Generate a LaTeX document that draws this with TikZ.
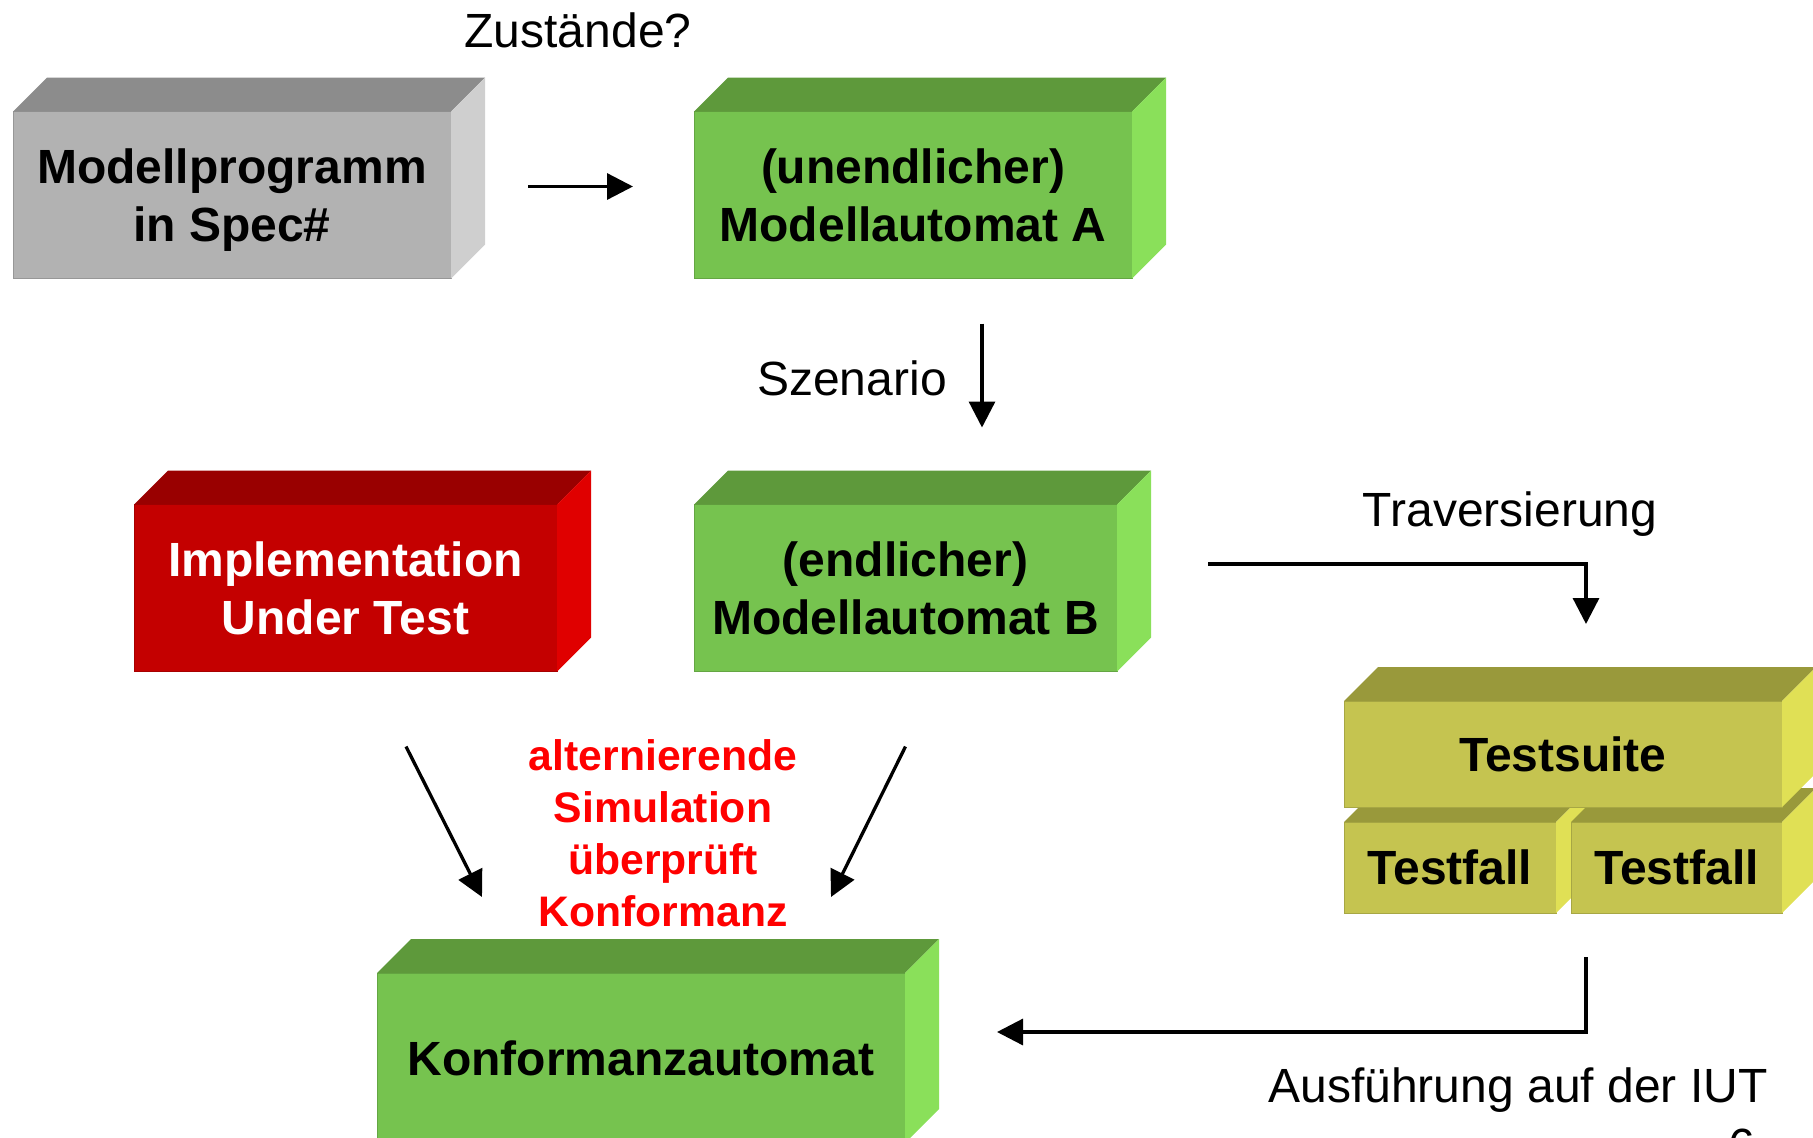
\documentclass[tikz,border=0pt]{standalone}
\usepackage{fontspec}
\setmainfont{Liberation Sans}
\usetikzlibrary{arrows.meta,calc}

% face colours of the 3-D blocks: front, top, side
\definecolor{grayF}{HTML}{B2B2B2}
\definecolor{grayT}{HTML}{8C8C8C}
\definecolor{grayS}{HTML}{CFCFCF}
\definecolor{greenF}{HTML}{76C34F}
\definecolor{greenT}{HTML}{5E993B}
\definecolor{greenS}{HTML}{8AE05A}
\definecolor{redF}{HTML}{C40000}
\definecolor{redT}{HTML}{990000}
\definecolor{redS}{HTML}{E00000}
\definecolor{oliveF}{HTML}{C5C450}
\definecolor{oliveT}{HTML}{99993B}
\definecolor{oliveS}{HTML}{E0E055}
\definecolor{alert}{HTML}{FF0000}

% top and side faces behind a front-face node: #1 node, #2 top colour, #3 side colour
\newcommand\blockfaces[3]{%
  \fill[#2] (#1.north west) -- ++(34,-34) -- ($(#1.north east)+(34,-34)$) -- (#1.north east) -- cycle;
  \fill[#3] (#1.north east) -- ++(34,-34) -- ($(#1.south east)+(34,-34)$) -- (#1.south east) -- cycle;}

\tikzset{
  front/.style={draw=#1!85!black, fill=#1, line width=1pt, inner sep=0pt, outer sep=0pt,
    align=center, font=\fontsize{48}{58}\selectfont\bfseries},
  flow/.style={line width=3.3pt, -{Triangle[length=26pt,width=26pt]}},
  caption/.style={font=\fontsize{48}{56}\selectfont, inner sep=0pt},
}

\begin{document}
\begin{tikzpicture}[x=1pt,y=-1pt]
\useasboundingbox (0,0) rectangle (1813,1138);

% --- blocks -------------------------------------------------------------
\node[front=grayF, minimum width=438, minimum height=167] (mp) at (232,195)
  {\rule{0pt}{45pt}Modellprogramm\\in Spec\#};
\blockfaces{mp}{grayT}{grayS}

\node[front=greenF, minimum width=438, minimum height=167] (ma) at (913,195)
  {(unendlicher)\\Modellautomat A};
\blockfaces{ma}{greenT}{greenS}

\node[front=redF, text=white, minimum width=423, minimum height=167] (iut) at (345.5,588)
  {Implementation\\Under Test};
\blockfaces{iut}{redT}{redS}

\node[front=greenF, minimum width=423, minimum height=167] (mb) at (905.5,588)
  {(endlicher)\\Modellautomat B};
\blockfaces{mb}{greenT}{greenS}

\node[front=greenF, minimum width=528, minimum height=170] (ka) at (641,1058)
  {Konformanzautomat};
\blockfaces{ka}{greenT}{greenS}

% test suite stack: test cases first, suite on top
\node[front=oliveF, minimum width=212, minimum height=91] (tf1) at (1450,867.5) {Testfall};
\blockfaces{tf1}{oliveT}{oliveS}
\node[front=oliveF, minimum width=211, minimum height=91] (tf2) at (1676.5,867.5) {Testfall};
\blockfaces{tf2}{oliveT}{oliveS}
\node[front=oliveF, minimum width=438, minimum height=106] (ts) at (1563,754) {Testsuite};
\blockfaces{ts}{oliveT}{oliveS}

% --- labels -------------------------------------------------------------
\node[caption] (lz) at (578,30) {Zustände?};
\node[caption] (ls) at (852,378) {Szenario};
\node[caption] (lt) at (1510,514) {Traversierung};
\node[caption] (la) at (1518,1090) {Ausführung auf der IUT};
\node[caption, anchor=base] (pg) at (1742,1162) {6};
\node[text=alert, align=center, inner sep=0pt,
      font=\fontsize{42.7}{52}\selectfont\bfseries] (sim) at (663,833)
  {alternierende\\Simulation\\überprüft\\Konformanz};

% --- connectors ---------------------------------------------------------
\draw[flow] ($(mp.east)+(77,-8.5)$) -- ($(ma.west)+(-61,-8.5)$);
\draw[flow] ($(ma.south)+(69,45)$) -- ($(mb.north)+(76.5,-77)$);
\draw[flow] ($(iut.south)+(60.5,75)$) -- ($(ka.north)+(-159,-76)$);
\draw[flow] ($(mb.south)+(0,75)$) -- ($(ka.north)+(190,-76)$);
\draw[flow] ($(mb.east)+(91,-24)$) -| ($(ts.north)+(23,-77)$);
\draw[flow] ($(tf2.south)+(-90.5,44)$) |- ($(ka.east)+(92,-26)$);
\end{tikzpicture}
\end{document}
